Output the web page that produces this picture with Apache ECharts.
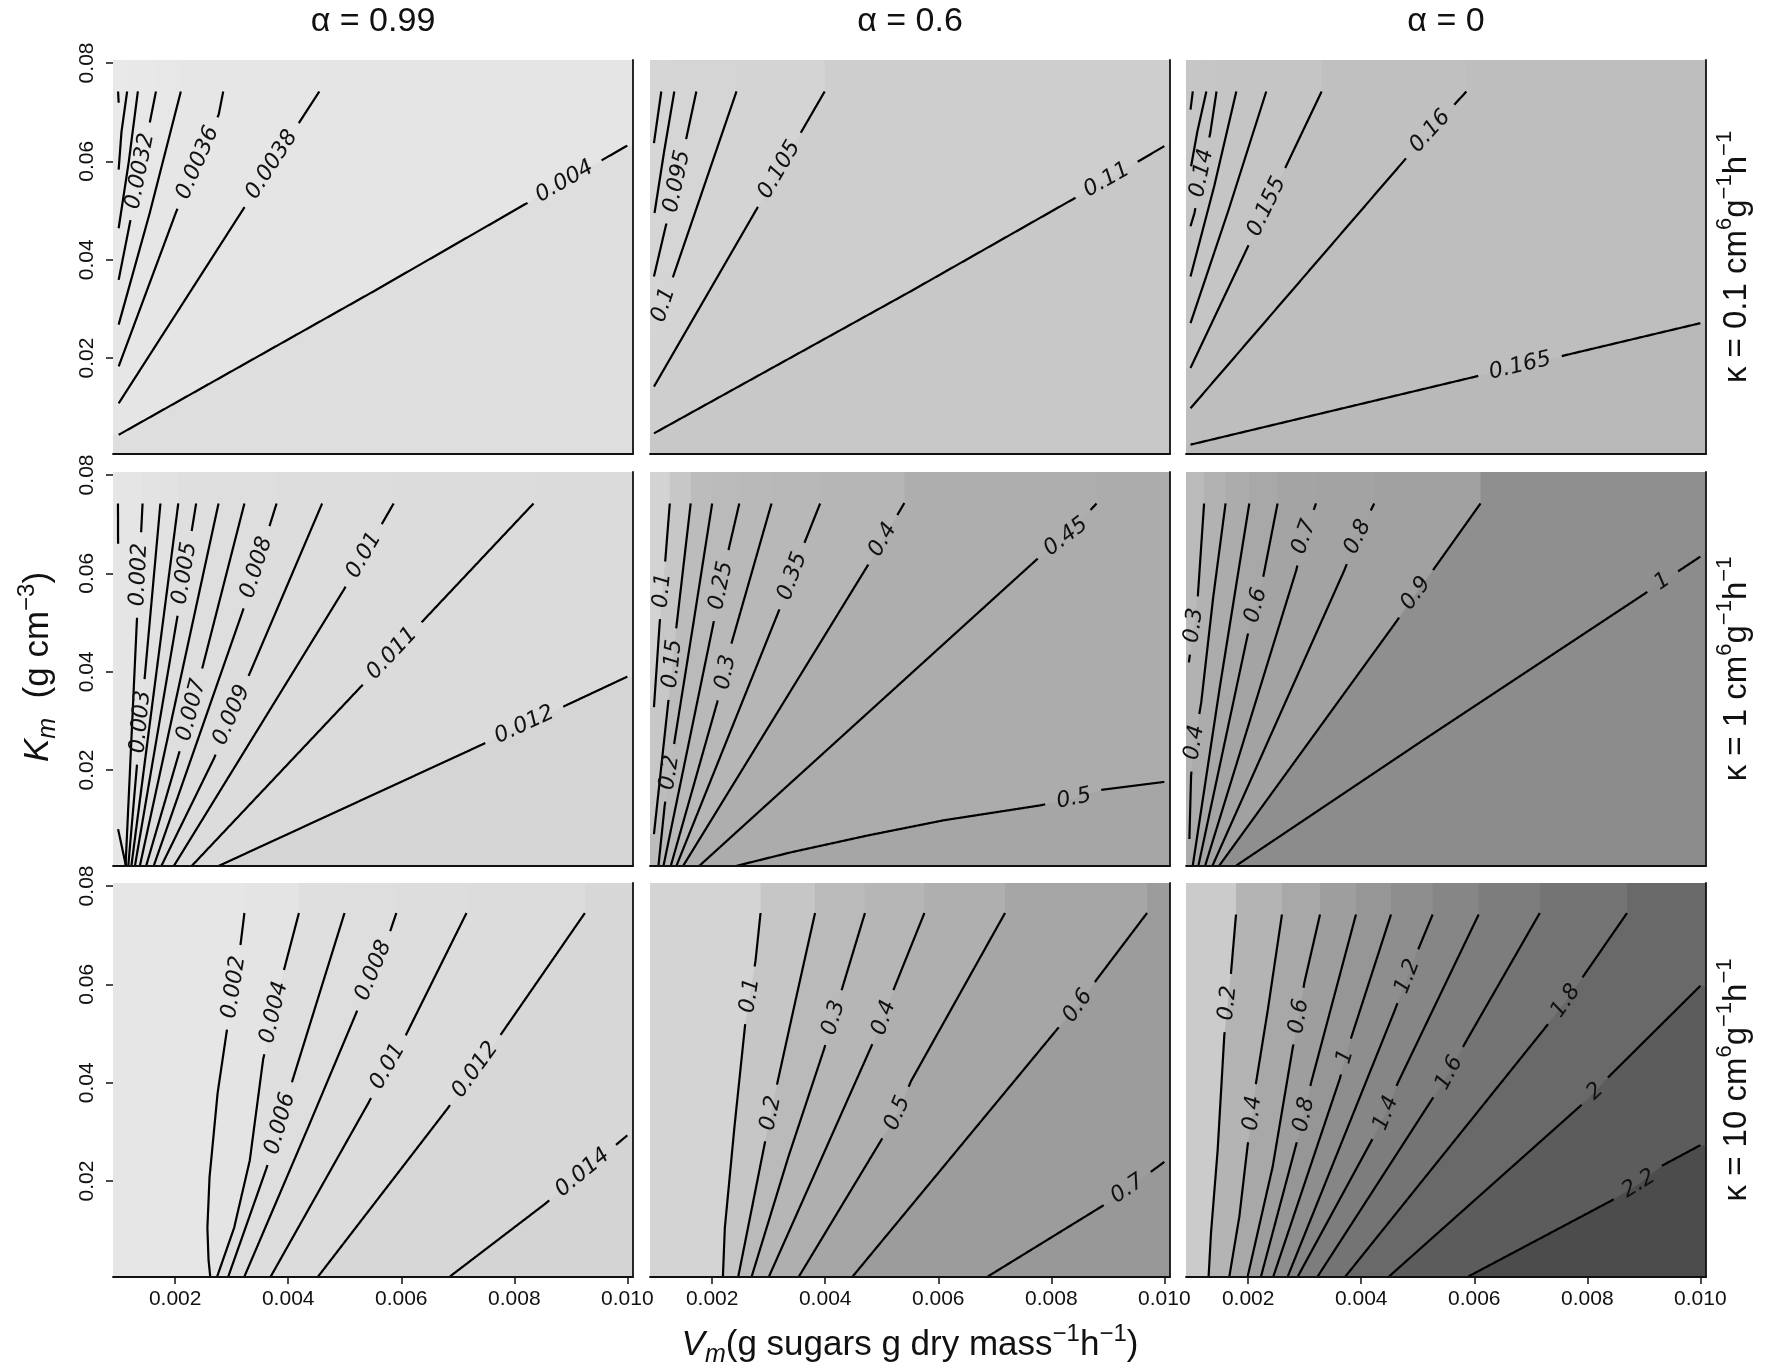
<!DOCTYPE html>
<html><head><meta charset="utf-8">
<script src="https://cdn.jsdelivr.net/npm/echarts@6/dist/echarts.min.js"></script>
<style>html,body{margin:0;padding:0;background:#fff}#c{width:1772px;height:1369px}</style>
</head><body><div id="c"></div>
<script>
// ---------- data ----------
const alphaLabels = ['α = 0.99', 'α = 0.6', 'α = 0'];
const kappaLabels = ['0.1', '1', '10'];
const xTicks = [0.002, 0.004, 0.006, 0.008, 0.010];
const xTickLabels = ['0.002', '0.004', '0.006', '0.008', '0.010'];
const yTicks = [0.02, 0.04, 0.06, 0.08];
const yTickLabels = ['0.02', '0.04', '0.06', '0.08'];
const xRange = [0.0009, 0.0101];
const yRange = [0.0005, 0.0806];

// contours: [level label, label position or null, points]
const c11 = [
  ['0.0026', null, [[0.00099,0.0742],[0.001,0.0719]]],
  ['0.0028', null, [[0.00115,0.0742],[0.00105,0.066],[0.001,0.0583]]],
  ['0.003', null, [[0.00134,0.0742],[0.00118,0.06],[0.001,0.0464]]],
  ['0.0032', [0.00138,0.058], [[0.00166,0.0742],[0.00138,0.058],[0.001,0.0359]]],
  ['0.0034', null, [[0.0021,0.0742],[0.00155,0.0495],[0.001,0.0268]]],
  ['0.0036', [0.0024,0.0597], [[0.00285,0.0742],[0.00277,0.0695],[0.0024,0.0597],[0.00202,0.0498],[0.001,0.0183]]],
  ['0.0038', [0.00371,0.0593], [[0.00455,0.0742],[0.00371,0.0593],[0.0032,0.0502],[0.001,0.0108]]],
  ['0.004', [0.00889,0.0559], [[0.001,0.0044],[0.0055,0.0335],[0.00889,0.0559],[0.01,0.0632]]]
];
const c12 = [
  ['0.085', null, [[0.0011,0.0742],[0.00097,0.0637]]],
  ['0.09', null, [[0.00133,0.0742],[0.00115,0.062],[0.00098,0.0495]]],
  ['0.095', [0.00138,0.0559], [[0.00172,0.0742],[0.00155,0.0651],[0.00138,0.0559],[0.00117,0.0464],[0.00097,0.0366]]],
  ['0.1', [0.00114,0.0308], [[0.00243,0.0742],[0.00131,0.0366],[0.00114,0.0308],[0.00098,0.0251]]],
  ['0.105', [0.00319,0.0583], [[0.00399,0.0742],[0.00319,0.0583],[0.00097,0.0142]]],
  ['0.11', [0.00898,0.0562], [[0.00097,0.0047],[0.0055,0.0335],[0.00898,0.0562],[0.01,0.0631]]]
];
const c13 = [
  ['0.13', null, [[0.00102,0.0742],[0.00098,0.0705]]],
  ['0.135', null, [[0.00126,0.0742],[0.0011,0.066],[0.00099,0.059]]],
  ['0.14', [0.00118,0.0576], [[0.00144,0.0742],[0.00133,0.0658],[0.00118,0.0576],[0.00105,0.0495],[0.00098,0.0468]]],
  ['0.145', null, [[0.00179,0.0742],[0.0014,0.055],[0.00098,0.0366]]],
  ['0.15', null, [[0.00232,0.0742],[0.00165,0.05],[0.00098,0.0271]]],
  ['0.155', [0.00233,0.0508], [[0.0033,0.0742],[0.00233,0.0508],[0.00098,0.018]]],
  ['0.16', [0.00522,0.0661], [[0.00586,0.0742],[0.00522,0.0661],[0.00477,0.0603],[0.00098,0.0098]]],
  ['0.165', [0.00681,0.0184], [[0.00098,0.0024],[0.00681,0.0184],[0.01,0.0271]]]
];
const c21 = [
  ['0.001', null, [[0.000988,0.0742],[0.00099,0.066],null,[0.00099,0.008],[0.00113,0.0005]]],
  ['0.002', [0.00136,0.0597], [[0.001423,0.0742],[0.00136,0.0597],[0.001122,0.0005]]],
  ['0.003', [0.00139,0.0298], [[0.001739,0.0742],[0.00139,0.0298],[0.00117,0.0005]]],
  ['0.004', null, [[0.002055,0.0742],[0.001225,0.0005]]],
  ['0.005', [0.00217,0.06], [[0.002371,0.0742],[0.00217,0.06],[0.001288,0.0005]]],
  ['0.006', null, [[0.002767,0.0742],[0.001375,0.0005]]],
  ['0.007', [0.00229,0.0322], [[0.003225,0.0742],[0.00229,0.0322],[0.001486,0.0005]]],
  ['0.008', [0.00344,0.0612], [[0.003794,0.0742],[0.00344,0.0612],[0.0032,0.0525],[0.00162,0.0005]]],
  ['0.009', [0.003,0.0312], [[0.0046,0.0742],[0.00332,0.0397],[0.003,0.0312],[0.002688,0.0224],[0.001755,0.0005]]],
  ['0.01', [0.00534,0.0637], [[0.005865,0.0742],[0.00534,0.0637],[0.00498,0.0566],[0.001976,0.0005]]],
  ['0.011', [0.00584,0.0437], [[0.00834,0.0742],[0.00584,0.0437],[0.002292,0.0005]]],
  ['0.012', [0.00818,0.0292], [[0.002767,0.0005],[0.00747,0.0254],[0.00818,0.0292],[0.01,0.039]]]
];
const c22 = [
  ['0.1', [0.00112,0.0565], [[0.00125,0.0742],[0.00117,0.0626],[0.00112,0.0565],[0.00107,0.0497],[0.00097,0.0328]]],
  ['0.15', [0.0013,0.0416], [[0.00162,0.0742],[0.00137,0.0494],[0.0013,0.0416],[0.00122,0.0335],[0.00097,0.007]]],
  ['0.2', [0.00125,0.0195], [[0.002,0.0742],[0.00167,0.05],[0.00134,0.0263],[0.00125,0.0195],[0.00116,0.0128],[0.00105,0.0006]]],
  ['0.25', [0.00216,0.0575], [[0.00248,0.0742],[0.0023,0.0653],[0.00216,0.0575],[0.00202,0.0497],[0.00114,0.0006]]],
  ['0.3', [0.00224,0.0399], [[0.00305,0.0742],[0.00234,0.0457],[0.00224,0.0399],[0.00208,0.0334],[0.00127,0.0006]]],
  ['0.35', [0.00342,0.0594], [[0.00391,0.0742],[0.00364,0.0664],[0.00342,0.0594],[0.00317,0.0521],[0.00137,0.0006]]],
  ['0.4', [0.00502,0.0668], [[0.00149,0.0006],[0.00479,0.0623],[0.00502,0.0668],[0.0054,0.0743]]],
  ['0.45', [0.00826,0.0674], [[0.00177,0.0005],[0.00776,0.063],[0.00826,0.0674],[0.0088,0.0742]]],
  ['0.5', [0.0084,0.0142], [[0.00242,0.0005],[0.0034,0.0033],[0.00475,0.0067],[0.0061,0.0098],[0.00779,0.0128],[0.0084,0.0142],[0.0089,0.016],[0.01,0.0176]]]
];
const c23 = [
  ['0.3', [0.00104,0.0494], [[0.00122,0.0742],[0.00111,0.0555],[0.00104,0.0494],[0.00095,0.0419]]],
  ['0.4', [0.00105,0.0256], [[0.0016,0.0742],[0.00138,0.055],[0.00117,0.0338],[0.00105,0.0256],[0.00099,0.0189],[0.00096,0.006]]],
  ['0.5', null, [[0.00202,0.0742],[0.0015,0.037],[0.00102,0.0006]]],
  ['0.6', [0.00214,0.0535], [[0.00252,0.0742],[0.00226,0.0589],[0.00214,0.0535],[0.00199,0.0474],[0.00112,0.0006]]],
  ['0.7', [0.00299,0.0674], [[0.0032,0.0742],[0.00299,0.0674],[0.00285,0.0606],[0.00124,0.0006]]],
  ['0.8', [0.00394,0.0674], [[0.00423,0.0742],[0.00394,0.0674],[0.0037,0.0606],[0.00137,0.0006]]],
  ['0.9', [0.00497,0.0559], [[0.00611,0.0742],[0.00523,0.06],[0.00497,0.0559],[0.00459,0.0497],[0.00149,0.0006]]],
  ['1', [0.00933,0.0583], [[0.00179,0.0006],[0.00515,0.0265],[0.00902,0.0559],[0.00933,0.0583],[0.01,0.0634]]]
];
const c31 = [
  ['0.002', [0.00304,0.0594], [[0.003225,0.0745],[0.003162,0.0686],[0.00304,0.0594],[0.002909,0.0502],[0.002751,0.0379],[0.002608,0.0208],[0.00257,0.0105],[0.00259,0.004],[0.00262,0.0006]]],
  ['0.004', [0.00375,0.0543], [[0.004189,0.0745],[0.003929,0.0631],[0.00375,0.0543],[0.003557,0.0448],[0.00332,0.0242],[0.003043,0.0105],[0.002743,0.0006]]],
  ['0.006', [0.00386,0.0317], [[0.004996,0.0745],[0.004071,0.0403],[0.00386,0.0317],[0.003612,0.0225],[0.00294,0.0006]]],
  ['0.008', [0.00551,0.0628], [[0.005913,0.0745],[0.00581,0.071],[0.00551,0.0628],[0.005193,0.0539],[0.004355,0.031],[0.003225,0.0006]]],
  ['0.01', [0.00576,0.0433], [[0.007154,0.0745],[0.006087,0.0498],[0.00576,0.0433],[0.005415,0.0358],[0.003691,0.0006]]],
  ['0.012', [0.00731,0.0426], [[0.009249,0.0745],[0.007786,0.0502],[0.00731,0.0426],[0.006822,0.0348],[0.004529,0.0006]]],
  ['0.014', [0.00921,0.0217], [[0.006861,0.0006],[0.008537,0.0153],[0.00921,0.0217],[0.01,0.0293]]]
];
const c32 = [
  ['0.1', [0.00267,0.0577], [[0.002856,0.0745],[0.002767,0.0648],[0.00267,0.0577],[0.002584,0.0519],[0.002394,0.031],[0.002224,0.0105],[0.00219,0.0006]]],
  ['0.2', [0.00304,0.0338], [[0.00382,0.0745],[0.00348,0.057],[0.003154,0.04],[0.00304,0.0338],[0.002924,0.0273],[0.002462,0.0006]]],
  ['0.3', [0.00415,0.0532], [[0.004703,0.0745],[0.004295,0.059],[0.00415,0.0532],[0.003976,0.0467],[0.00335,0.025],[0.002699,0.0006]]],
  ['0.4', [0.00504,0.0532], [[0.005755,0.0745],[0.005212,0.059],[0.00504,0.0532],[0.004805,0.0471],[0.003005,0.0006]]],
  ['0.5', [0.00528,0.0338], [[0.007181,0.0745],[0.005517,0.0403],[0.00528,0.0338],[0.004974,0.028],[0.003535,0.0006]]],
  ['0.6', [0.00847,0.0556], [[0.009694,0.0745],[0.008811,0.0611],[0.00847,0.0556],[0.008098,0.0508],[0.004485,0.0006]]],
  ['0.7', [0.00935,0.0184], [[0.006876,0.0006],[0.008913,0.015],[0.00935,0.0184],[0.01,0.0239]]]
];
const c33 = [
  ['0.2', [0.00164,0.0562], [[0.001785,0.0742],[0.001696,0.0623],[0.00164,0.0562],[0.001578,0.0497],[0.00146,0.0263],[0.001342,0.0094],[0.0013,0.0006]]],
  ['0.4', [0.00208,0.0338], [[0.002598,0.0742],[0.00235,0.055],[0.002138,0.0399],[0.00208,0.0338],[0.001991,0.0273],[0.001844,0.0128],[0.001667,0.0006]]],
  ['0.6', [0.0029,0.0535], [[0.003271,0.0742],[0.002993,0.0603],[0.0029,0.0535],[0.002787,0.047],[0.002433,0.0229],[0.001991,0.0006]]],
  ['0.8', [0.00299,0.0335], [[0.003907,0.0742],[0.003111,0.0399],[0.00299,0.0335],[0.002846,0.0273],[0.002227,0.0006]]],
  ['1', [0.00372,0.0453], [[0.004527,0.0742],[0.00379,0.048],[0.00372,0.0453],[0.003624,0.0409],[0.002445,0.0006]]],
  ['1.2', [0.00482,0.0616], [[0.005264,0.0742],[0.004969,0.066],[0.00482,0.0616],[0.004586,0.0545],[0.0027,0.0006]]],
  ['1.4', [0.00444,0.0338], [[0.006078,0.0742],[0.004645,0.0399],[0.00444,0.0338],[0.004173,0.028],[0.002878,0.0006]]],
  ['1.6', [0.00556,0.042], [[0.007159,0.0745],[0.005825,0.0478],[0.00556,0.042],[0.005229,0.0362],[0.003229,0.0006]]],
  ['1.8', [0.00762,0.0566], [[0.008703,0.0745],[0.007896,0.0611],[0.00762,0.0566],[0.007229,0.0508],[0.00372,0.0006]]],
  ['2', [0.00814,0.0382], [[0.004492,0.0006],[0.00786,0.0351],[0.00814,0.0382],[0.008352,0.0409],[0.01,0.0597]]],
  ['2.2', [0.00891,0.0194], [[0.005895,0.0006],[0.008422,0.016],[0.00891,0.0194],[0.009334,0.0232],[0.01,0.0273]]]
];

// grey shade of each band (before first contour, between contours, after last)
const s11 = ['#e9e9e9','#e9e9e9','#e8e8e8','#e8e8e8','#e7e7e7','#e6e6e6','#e6e6e6','#e5e5e5','#dedede'];
const s12 = ['#d6d6d6','#d6d6d6','#d5d5d5','#d5d5d5','#d4d4d4','#cecece','#c8c8c8'];
const s13 = ['#c6c6c6','#c6c6c6','#c6c6c6','#c5c5c5','#c5c5c5','#c5c5c5','#c0c0c0','#bebebe','#b9b9b9'];
const s21 = ['#e6e6e6','#e5e5e5','#e3e3e3','#e2e2e2','#dfdfdf','#dfdfdf','#dedede','#dedede','#dddddd','#dddddd','#dcdcdc','#dbdbdb','#d5d5d5'];
const s22 = ['#d3d3d3','#c7c7c7','#bcbcbc','#bababa','#b9b9b9','#b8b8b8','#b6b6b6','#aeaeae','#acacac','#a6a6a6'];
const s23 = ['#bababa','#b2b2b2','#acacac','#a8a8a8','#a4a4a4','#a3a3a3','#a1a1a1','#8f8f8f','#8c8c8c'];
const s31 = ['#e6e6e6','#e4e4e4','#dfdfdf','#dedede','#dddddd','#dcdcdc','#d7d7d7','#d4d4d4'];
const s32 = ['#d4d4d4','#c6c6c6','#bababa','#b6b6b6','#afafaf','#a6a6a6','#9c9c9c','#989898'];
const s33 = ['#cbcbcb','#b4b4b4','#a8a8a8','#9e9e9e','#969696','#8e8e8e','#868686','#7d7d7d','#747474','#696969','#5c5c5c','#4c4c4c'];

// ---------- layout ----------
const panels = [
  {c:c11,s:s11},{c:c12,s:s12},{c:c13,s:s13},
  {c:c21,s:s21},{c:c22,s:s22},{c:c23,s:s23},
  {c:c31,s:s31},{c:c32,s:s32},{c:c33,s:s33}
];
const colLeft = [113, 650, 1186], rowTop = [60, 472, 883], PW = 520, PH = 394;
const INK = '#111111';
const LABEL_FONT = 'italic 22px "DejaVu Sans"';
const TICK_FONT = '21px "Liberation Sans", Arial, sans-serif';
const mctx = document.createElement('canvas').getContext('2d');
mctx.font = LABEL_FONT;
const measure = s => mctx.measureText(s).width;

function proj(p) {
  const [x, y] = p, [x0, x1] = xRange, [y0, y1] = yRange;
  if (y > 0.0735) return {pt:[x, y1], t:(x - x0) / (x1 - x0)};
  if (x < 0.00106) return {pt:[x0, y], t:3 + (y - y0) / (y1 - y0)};
  if (x > 0.00995) return {pt:[x1, y], t:1 + (y1 - y) / (y1 - y0)};
  return {pt:[x, y0], t:2 + (x1 - x) / (x1 - x0)};
}
function cornerPt(k) {
  const [x0, x1] = xRange, [y0, y1] = yRange;
  return [[x0,y1],[x1,y1],[x1,y0],[x0,y0]][k];
}
function shadeRender(pi) {
  return function (params, api) {
    const P = panels[pi];
    const idx = api.value(0);
    if (idx < 0) {
      const a = api.coord([xRange[0], yRange[1]]), b = api.coord([xRange[1], yRange[0]]);
      return {type:'rect', shape:{x:a[0], y:a[1], width:b[0]-a[0], height:b[1]-a[1]}, style:{fill:P.s[0]}};
    }
    const pts = P.c[idx][2].filter(p => p !== null);
    const s = proj(pts[0]), e = proj(pts[pts.length - 1]);
    const a = e.t;
    let b = s.t; if (b <= a) b += 4;
    let corners = [];
    for (let k = Math.floor(a) + 1; k < b; k++) corners.push(k % 4);
    if (!corners.includes(2)) {
      corners = [];
      let b2 = s.t; if (b2 >= a) b2 -= 4;
      for (let k = Math.ceil(a) - 1; k > b2; k--) corners.push(((k % 4) + 4) % 4);
    }
    const poly = [s.pt, ...pts, e.pt, ...corners.map(cornerPt)].map(p => api.coord(p));
    return {type:'polygon', shape:{points:poly}, style:{fill:P.s[idx + 1]}};
  };
}
function distSeg(p, a, b) {
  const dx = b[0]-a[0], dy = b[1]-a[1];
  const L = dx*dx + dy*dy || 1;
  let t = ((p[0]-a[0])*dx + (p[1]-a[1])*dy) / L; t = Math.max(0, Math.min(1, t));
  return Math.hypot(p[0]-a[0]-t*dx, p[1]-a[1]-t*dy);
}
function cutRun(run, c, r) {
  const out = []; let cur = [];
  const inside = p => Math.hypot(p[0]-c[0], p[1]-c[1]) < r;
  for (let i = 0; i < run.length - 1; i++) {
    const a = run[i], b = run[i+1];
    const n = Math.max(1, Math.ceil(Math.hypot(b[0]-a[0], b[1]-a[1])));
    for (let k = (i === 0 ? 0 : 1); k <= n; k++) {
      const p = [a[0] + (b[0]-a[0])*k/n, a[1] + (b[1]-a[1])*k/n];
      if (inside(p)) { if (cur.length > 1) out.push(cur); cur = []; }
      else cur.push(p);
    }
  }
  if (cur.length > 1) out.push(cur);
  return out;
}
function contourRender(pi) {
  return function (params, api) {
    const [lv, lab, pts] = panels[pi].c[api.value(0)];
    const runs = [[]];
    pts.forEach(p => { if (p === null) runs.push([]); else runs[runs.length-1].push(api.coord(p)); });
    const children = [];
    let lp = null, r = 0, ang = 0;
    if (lab) {
      lp = api.coord(lab);
      r = measure(lv) / 2 + 11;
      let best = 1e9, dir = [1, 0];
      runs.forEach(run => {
        for (let i = 0; i < run.length - 1; i++) {
          const d = distSeg(lp, run[i], run[i+1]);
          if (d < best) { best = d; dir = [run[i+1][0]-run[i][0], run[i+1][1]-run[i][1]]; }
        }
      });
      ang = Math.atan2(-dir[1], dir[0]);
      if (ang > Math.PI/2) ang -= Math.PI;
      if (ang <= -Math.PI/2) ang += Math.PI;
    }
    runs.forEach(run => {
      const pieces = lab ? cutRun(run, lp, r) : [run];
      pieces.forEach(pc => {
        if (pc.length > 1) children.push({type:'polyline', shape:{points:pc},
          style:{stroke:'#000', lineWidth:2.2, fill:'none', lineJoin:'round'}});
      });
    });
    if (lab) children.push({type:'text', x:lp[0], y:lp[1], rotation:ang,
      style:{text:lv, font:LABEL_FONT, fill:INK, align:'center', verticalAlign:'middle'}});
    return {type:'group', children};
  };
}
function xTickLabelRender(params, api) {
  const v = api.value(0);
  const p = api.coord([v, yRange[0]]);
  return {type:'text', x:p[0], y:p[1] + 12,
    style:{text:xTickLabels[params.dataIndex], font:TICK_FONT, fill:INK, align:'center', verticalAlign:'top'}};
}
function yTickLabelRender(params, api) {
  const v = api.value(1);
  const p = api.coord([xRange[0], v]);
  return {type:'text', x:p[0] - 15, y:p[1], rotation:Math.PI/2,
    style:{text:yTickLabels[params.dataIndex], font:TICK_FONT, fill:INK, align:'center', verticalAlign:'bottom'}};
}

const grids = [], xAxes = [], yAxes = [], series = [];
panels.forEach((P, i) => {
  const r = Math.floor(i / 3), c = i % 3;
  grids.push({left:colLeft[c], top:rowTop[r], width:PW, height:PH});
  xAxes.push({type:'value', gridIndex:i, min:xRange[0], max:xRange[1], z:10,
    axisLine:{show:true, onZero:false, lineStyle:{color:INK, width:1.8}},
    axisTick:{show:r === 2, inside:false, length:7, customValues:xTicks, lineStyle:{color:INK, width:1.5}},
    axisLabel:{show:false}, splitLine:{show:false}});
  yAxes.push({type:'value', gridIndex:i, min:yRange[0], max:yRange[1], z:10,
    axisLine:{show:false, onZero:false},
    axisTick:{show:c === 0, inside:false, length:7, customValues:yTicks, lineStyle:{color:INK, width:1.5}},
    axisLabel:{show:false}, splitLine:{show:false}});
  yAxes.push({type:'value', gridIndex:i, position:'right', min:yRange[0], max:yRange[1], z:10,
    axisLine:{show:true, onZero:false, lineStyle:{color:INK, width:1.8}},
    axisTick:{show:false}, axisLabel:{show:false}, splitLine:{show:false}});
  series.push({type:'custom', xAxisIndex:i, yAxisIndex:2*i, z:1, silent:true, clip:true,
    renderItem: shadeRender(i), data:[[-1], ...P.c.map((_, k) => [k])]});
  series.push({type:'custom', xAxisIndex:i, yAxisIndex:2*i, z:3, silent:true, clip:false,
    renderItem: contourRender(i), data:P.c.map((_, k) => [k])});
  if (r === 2) series.push({type:'custom', xAxisIndex:i, yAxisIndex:2*i, z:5, silent:true, clip:false,
    renderItem: xTickLabelRender, data:xTicks.map(v => [v, yRange[0]])});
  if (c === 0) series.push({type:'custom', xAxisIndex:i, yAxisIndex:2*i, z:5, silent:true, clip:false,
    renderItem: yTickLabelRender, data:yTicks.map(v => [xRange[0], v])});
});

const FF = '"Liberation Sans", Arial, sans-serif';
const graphics = [];
alphaLabels.forEach((t, c) => graphics.push({type:'text', x:colLeft[c] + PW/2, y:22,
  style:{text:t, font:'34px ' + FF, fill:INK, align:'center', verticalAlign:'middle'}}));
const supRich = {
  m:{fontSize:33, fontFamily:FF, lineHeight:46, fill:INK},
  s:{fontSize:22, fontFamily:FF, lineHeight:20, verticalAlign:'top', fill:INK}
};
kappaLabels.forEach((k, r) => graphics.push({type:'text', x:1737, y:rowTop[r] + PH/2, rotation:Math.PI/2,
  style:{text:'{m|κ = ' + k + ' cm}{s|6}{m|g}{s|−1}{m|h}{s|−1}', align:'center', verticalAlign:'middle', rich:supRich}}));
const axRich = {
  i:{fontSize:35, fontFamily:FF, fontStyle:'italic', lineHeight:46, fill:INK},
  b:{fontSize:25, fontFamily:FF, fontStyle:'italic', lineHeight:24, verticalAlign:'bottom', fill:INK},
  m:{fontSize:35, fontFamily:FF, lineHeight:46, fill:INK},
  s:{fontSize:24, fontFamily:FF, lineHeight:20, verticalAlign:'top', fill:INK}
};
graphics.push({type:'text', x:colLeft[1] + PW/2, y:1345,
  style:{text:'{i|V}{b|m}{m|(g sugars g dry mass}{s|−1}{m|h}{s|−1}{m|)}', align:'center', verticalAlign:'middle', rich:axRich}});
graphics.push({type:'text', x:38, y:667, rotation:Math.PI/2,
  style:{text:'{i|K}{b|m}{m|  (g cm}{s|−3}{m|)}', align:'center', verticalAlign:'middle', rich:axRich}});

const chart = echarts.init(document.getElementById('c'), null, {renderer:'canvas'});
chart.setOption({
  animation:false, backgroundColor:'#ffffff',
  grid:grids, xAxis:xAxes, yAxis:yAxes, series:series, graphic:graphics
});
</script></body></html>
